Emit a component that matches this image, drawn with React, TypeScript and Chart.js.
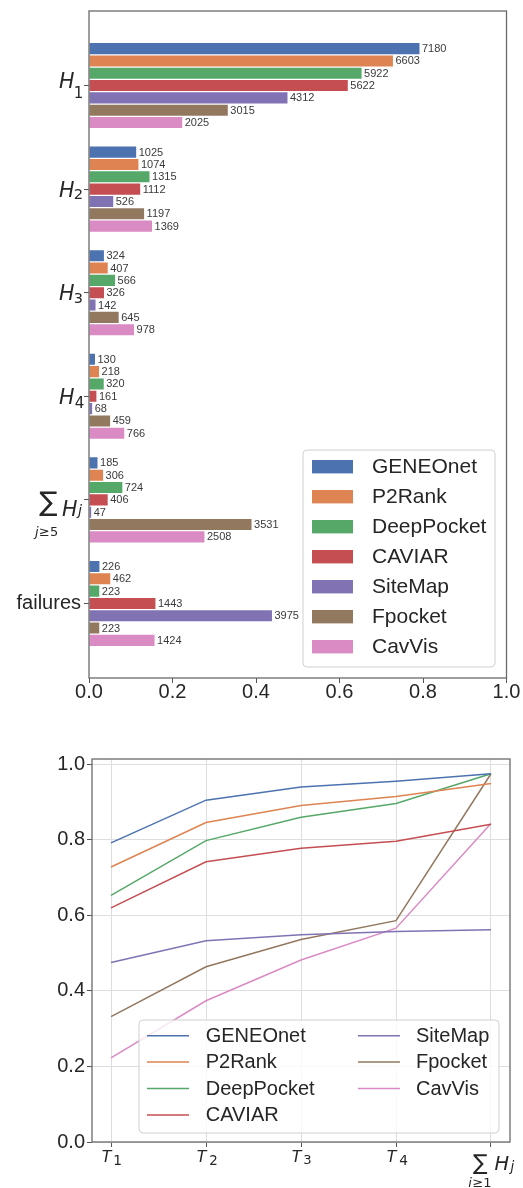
import React, { useEffect, useRef } from 'react';
import { Chart, registerables } from 'chart.js';

Chart.register(...registerables);

// ---------- data ----------
const METHODS = ['GENEOnet', 'P2Rank', 'DeepPocket', 'CAVIAR', 'SiteMap', 'Fpocket', 'CavVis'];
const COLORS = ['#4C72B0', '#DD8452', '#55A868', '#C44E52', '#8172B3', '#937860', '#DA8BC3'];

// bar chart (top): number of structures in each class, shown as a fraction of all structures
const BAR_CATEGORIES = ['H_1', 'H_2', 'H_3', 'H_4', 'SUM_j>=5 H_j', 'failures'];
const TOTAL_STRUCTURES = 9070;
const GENEONET_COUNTS = [7180, 1025, 324, 130, 185, 226];
const P2RANK_COUNTS = [6603, 1074, 407, 218, 306, 462];
const DEEPPOCKET_COUNTS = [5922, 1315, 566, 320, 724, 223];
const CAVIAR_COUNTS = [5622, 1112, 326, 161, 406, 1443];
const SITEMAP_COUNTS = [4312, 526, 142, 68, 47, 3975];
const FPOCKET_COUNTS = [3015, 1197, 645, 459, 3531, 223];
const CAVVIS_COUNTS = [2025, 1369, 978, 766, 2508, 1424];
const BAR_X_TICKS = [0, 0.2, 0.4, 0.6, 0.8, 1.0];
const BAR_X_TICK_LABELS = ['0.0', '0.2', '0.4', '0.6', '0.8', '1.0'];

// line chart (bottom): cumulative success rate
const LINE_CATEGORIES = ['T_1', 'T_2', 'T_3', 'T_4', 'SUM_i>=1 H_j'];
const GENEONET_RATE = [0.792, 0.905, 0.940, 0.955, 0.975];
const P2RANK_RATE = [0.728, 0.846, 0.891, 0.915, 0.949];
const DEEPPOCKET_RATE = [0.653, 0.798, 0.860, 0.896, 0.975];
const CAVIAR_RATE = [0.620, 0.742, 0.778, 0.796, 0.841];
const SITEMAP_RATE = [0.475, 0.533, 0.549, 0.557, 0.562];
const FPOCKET_RATE = [0.332, 0.464, 0.536, 0.586, 0.975];
const CAVVIS_RATE = [0.223, 0.374, 0.482, 0.566, 0.843];
const LINE_Y_TICKS = [0, 0.2, 0.4, 0.6, 0.8, 1.0];
const LINE_Y_TICK_LABELS = ['0.0', '0.2', '0.4', '0.6', '0.8', '1.0'];

const COUNTS = [GENEONET_COUNTS, P2RANK_COUNTS, DEEPPOCKET_COUNTS, CAVIAR_COUNTS, SITEMAP_COUNTS, FPOCKET_COUNTS, CAVVIS_COUNTS];
const RATES = [GENEONET_RATE, P2RANK_RATE, DEEPPOCKET_RATE, CAVIAR_RATE, SITEMAP_RATE, FPOCKET_RATE, CAVVIS_RATE];

// ---------- helpers ----------
const TEXT = '#262626';
const SANS = '"Liberation Sans", Arial, sans-serif';
const mathFont = (size: number, italic: boolean) => `${italic ? 'italic ' : ''}${size}px "DejaVu Sans"`;

// draw text so that its ink box has given left/top/height; returns right edge of ink
function fitGlyph(ctx: CanvasRenderingContext2D, text: string, italic: boolean, left: number, top: number, height: number) {
  ctx.font = mathFont(100, italic);
  const m = ctx.measureText(text);
  const h = m.actualBoundingBoxAscent + m.actualBoundingBoxDescent;
  const size = (100 * height) / h;
  ctx.font = mathFont(size, italic);
  const m2 = ctx.measureText(text);
  ctx.textAlign = 'left';
  ctx.textBaseline = 'alphabetic';
  const x = left + m2.actualBoundingBoxLeft;
  ctx.fillText(text, x, top + m2.actualBoundingBoxAscent);
  return x + m2.actualBoundingBoxRight;
}

function smallMath(ctx: CanvasRenderingContext2D, italicPart: string, rest: string, left: number, baseline: number, size: number) {
  ctx.textAlign = 'left';
  ctx.textBaseline = 'alphabetic';
  ctx.font = mathFont(size, true);
  ctx.fillText(italicPart, left, baseline);
  const w = ctx.measureText(italicPart).width;
  ctx.font = mathFont(size, false);
  ctx.fillText(rest, left + w + 0.5, baseline);
}

function roundRect(ctx: CanvasRenderingContext2D, x: number, y: number, w: number, h: number, r: number) {
  ctx.beginPath();
  ctx.moveTo(x + r, y);
  ctx.lineTo(x + w - r, y);
  ctx.arcTo(x + w, y, x + w, y + r, r);
  ctx.lineTo(x + w, y + h - r);
  ctx.arcTo(x + w, y + h, x + w - r, y + h, r);
  ctx.lineTo(x + r, y + h);
  ctx.arcTo(x, y + h, x, y + h - r, r);
  ctx.lineTo(x, y + r);
  ctx.arcTo(x, y, x + r, y, r);
  ctx.closePath();
}

function drawFrame(chart: any) {
  const { ctx, chartArea: a } = chart;
  ctx.save();
  ctx.strokeStyle = '#6a6a6a';
  ctx.lineWidth = 1.3;
  ctx.strokeRect(a.left, a.top, a.right - a.left, a.bottom - a.top);
  ctx.restore();
}

// ---------- top chart plugin ----------
const barDecor = {
  id: 'barDecor',
  afterDraw(chart: any) {
    const ctx: CanvasRenderingContext2D = chart.ctx;
    drawFrame(chart);
    ctx.save();
    // value labels
    ctx.font = `11px ${SANS}`;
    ctx.fillStyle = '#3a3a3a';
    ctx.textAlign = 'left';
    ctx.textBaseline = 'middle';
    COUNTS.forEach((arr, k) => {
      const meta = chart.getDatasetMeta(k);
      meta.data.forEach((el: any, i: number) => {
        ctx.fillText(String(arr[i]), el.x + 2.5, el.y + 0.5);
      });
    });
    // category labels
    ctx.fillStyle = TEXT;
    const ys = chart.scales.y;
    BAR_CATEGORIES.forEach((lab, i) => {
      const T = ys.getPixelForValue(i);
      if (lab.startsWith('H_')) {
        const r = fitGlyph(ctx, 'H', true, 59, T - 8.3, 15);
        fitGlyph(ctx, lab.slice(2), false, r + 0.8, T, 11);
      } else if (lab === 'failures') {
        ctx.font = `20px ${SANS}`;
        ctx.textAlign = 'right';
        ctx.textBaseline = 'middle';
        ctx.fillText('failures', 81, T);
      } else {
        fitGlyph(ctx, '\u2211', false, 39, T - 9, 25);
        const r = fitGlyph(ctx, 'H', true, 62, T, 15);
        fitGlyph(ctx, 'j', true, r - 1, T + 4, 14);
        smallMath(ctx, 'j', '\u22655', 35, T + 36, 13);
      }
    });
    // legend
    const lx = 303, ly = 450, lw = 192, lh = 217;
    roundRect(ctx, lx, ly, lw, lh, 4);
    ctx.fillStyle = 'rgba(255,255,255,0.8)';
    ctx.fill();
    ctx.strokeStyle = '#d0d0d0';
    ctx.lineWidth = 1;
    ctx.stroke();
    METHODS.forEach((m, k) => {
      const cy = 466.7 + 30 * k;
      ctx.fillStyle = COLORS[k];
      ctx.fillRect(312, cy - 6.7, 41, 13.4);
      ctx.fillStyle = TEXT;
      ctx.font = `21px ${SANS}`;
      ctx.textAlign = 'left';
      ctx.textBaseline = 'middle';
      ctx.fillText(m, 372, cy + 0.5);
    });
    ctx.restore();
  },
};

// ---------- bottom chart plugin ----------
const lineDecor = {
  id: 'lineDecor',
  afterDraw(chart: any) {
    const ctx: CanvasRenderingContext2D = chart.ctx;
    drawFrame(chart);
    ctx.save();
    ctx.fillStyle = TEXT;
    const xs = chart.scales.x;
    const axis = chart.chartArea.bottom;
    LINE_CATEGORIES.forEach((lab, i) => {
      const tx = xs.getPixelForValue(i);
      if (lab.startsWith('T_')) {
        const r = fitGlyph(ctx, 'T', true, tx - 9.3, axis + 8, 11.7);
        fitGlyph(ctx, lab.slice(2), false, r + 1.5, axis + 13, 10);
      } else {
        fitGlyph(ctx, '\u2211', false, tx - 18, axis + 12, 20);
        const r = fitGlyph(ctx, 'H', true, tx + 3.6, axis + 14, 14.2);
        fitGlyph(ctx, 'j', true, r - 1, axis + 18, 13);
        smallMath(ctx, 'i', '\u22651', tx - 22.7, axis + 45, 13);
      }
    });
    // legend
    const lx = 139, ly = 310, lw = 360, lh = 113;
    roundRect(ctx, lx, ly, lw, lh, 4);
    ctx.fillStyle = 'rgba(255,255,255,0.8)';
    ctx.fill();
    ctx.strokeStyle = '#d0d0d0';
    ctx.lineWidth = 1;
    ctx.stroke();
    METHODS.forEach((m, k) => {
      const col = k < 4 ? 0 : 1;
      const row = k < 4 ? k : k - 4;
      const cy = 325.7 + 26.4 * row;
      const x0 = col === 0 ? 147 : 358;
      const tx = col === 0 ? 205.7 : 416;
      ctx.strokeStyle = COLORS[k];
      ctx.lineWidth = 1.5;
      ctx.beginPath();
      ctx.moveTo(x0, cy);
      ctx.lineTo(x0 + 42, cy);
      ctx.stroke();
      ctx.fillStyle = TEXT;
      ctx.font = `20px ${SANS}`;
      ctx.textAlign = 'left';
      ctx.textBaseline = 'middle';
      ctx.fillText(m, tx, cy + 0.5);
    });
    ctx.restore();
  },
};

function barConfig(): any {
  return {
    type: 'bar',
    data: {
      datasets: METHODS.map((m, k) => ({
        label: m,
        data: COUNTS[k].map((c, i) => ({ x: c, y: i })),
        backgroundColor: COLORS[k],
        borderWidth: 0,
        categoryPercentage: 0.833,
        barPercentage: 0.9,
      })),
    },
    options: {
      indexAxis: 'y',
      animation: false,
      responsive: false,
      maintainAspectRatio: false,
      layout: { padding: { left: 0, top: 11, right: 16.5, bottom: 0 } },
      plugins: { legend: { display: false }, tooltip: { enabled: false } },
      scales: {
        x: {
          type: 'linear',
          min: 0,
          max: TOTAL_STRUCTURES,
          afterBuildTicks: (s: any) => {
            s.ticks = BAR_X_TICKS.map((v) => ({ value: v * TOTAL_STRUCTURES }));
          },
          ticks: {
            callback: (_v: any, i: number) => BAR_X_TICK_LABELS[i],
            font: { size: 20, family: SANS },
            color: TEXT,
            padding: -3,
            maxRotation: 0,
          },
          grid: { drawOnChartArea: false, drawTicks: true, tickLength: 5, tickColor: '#555', offset: false },
          border: { display: false },
          afterFit: (s: any) => { s.height = 32; },
        },
        y: {
          type: 'linear',
          reverse: true,
          offset: false,
          min: -0.72,
          max: 5.72,
          afterBuildTicks: (s: any) => {
            s.ticks = BAR_CATEGORIES.map((_c, i) => ({ value: i }));
          },
          ticks: { display: false },
          grid: { drawOnChartArea: false, drawTicks: true, tickLength: 5, tickColor: '#555', offset: false },
          border: { display: false },
          afterFit: (s: any) => { s.width = 89; },
        },
      },
    },
    plugins: [barDecor],
  };
}

function lineConfig(): any {
  return {
    type: 'line',
    data: {
      datasets: METHODS.map((m, k) => ({
        label: m,
        data: RATES[k].map((v, i) => ({ x: i, y: v })),
        borderColor: COLORS[k],
        backgroundColor: COLORS[k],
        borderWidth: 1.5,
        pointRadius: 0,
        fill: false,
        tension: 0,
      })),
    },
    options: {
      animation: false,
      responsive: false,
      maintainAspectRatio: false,
      layout: { padding: { left: 0, top: 49, right: 13, bottom: 0 } },
      plugins: { legend: { display: false }, tooltip: { enabled: false } },
      scales: {
        x: {
          type: 'linear',
          min: -0.2,
          max: 4.2,
          afterBuildTicks: (s: any) => {
            s.ticks = LINE_CATEGORIES.map((_c, i) => ({ value: i }));
          },
          ticks: { display: false },
          grid: { color: '#dedede', lineWidth: 1, tickColor: '#555', tickLength: 5 },
          border: { display: false },
          afterFit: (s: any) => { s.height = 46; },
        },
        y: {
          type: 'linear',
          min: 0,
          max: 1.014,
          afterBuildTicks: (s: any) => {
            s.ticks = LINE_Y_TICKS.map((v) => ({ value: v }));
          },
          ticks: {
            callback: (_v: any, i: number) => LINE_Y_TICK_LABELS[i],
            font: { size: 20, family: SANS },
            color: TEXT,
            padding: 2,
          },
          grid: { color: '#dedede', lineWidth: 1, tickColor: '#555', tickLength: 5 },
          border: { display: false },
          afterFit: (s: any) => { s.width = 92; },
        },
      },
    },
    plugins: [lineDecor],
  };
}

export default function App() {
  const topRef = useRef<HTMLCanvasElement>(null);
  const botRef = useRef<HTMLCanvasElement>(null);
  useEffect(() => {
    const c1 = new Chart(topRef.current as HTMLCanvasElement, barConfig());
    const c2 = new Chart(botRef.current as HTMLCanvasElement, lineConfig());
    return () => {
      c1.destroy();
      c2.destroy();
    };
  }, []);
  return (
    <div style={{ position: 'absolute', left: 0, top: 0, width: 523, height: 1188, background: '#fff', overflow: 'hidden' }}>
      <canvas ref={topRef} width={523} height={710} style={{ position: 'absolute', left: 0, top: 0, width: 523, height: 710 }} />
      <canvas ref={botRef} width={523} height={478} style={{ position: 'absolute', left: 0, top: 710, width: 523, height: 478 }} />
    </div>
  );
}
